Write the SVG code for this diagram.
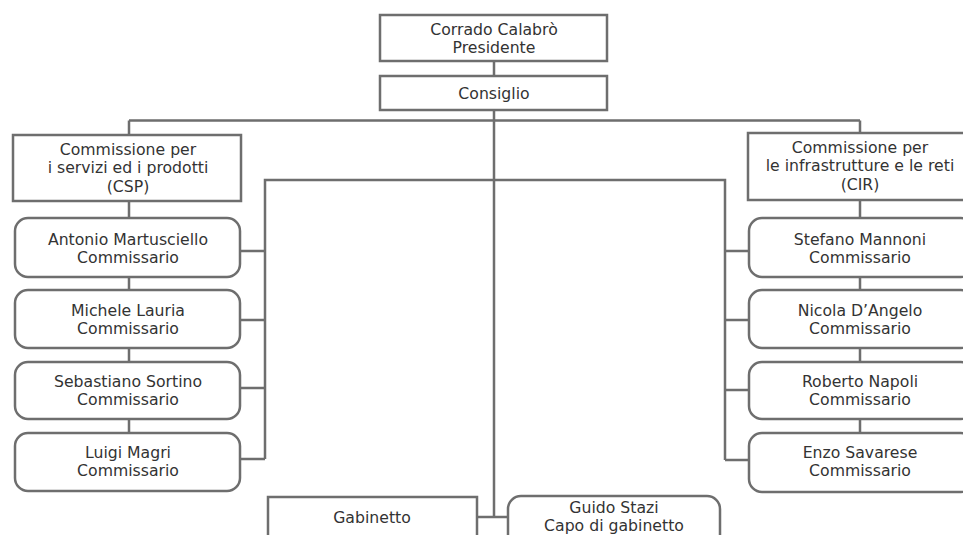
<svg xmlns="http://www.w3.org/2000/svg" width="963" height="535" viewBox="0 0 963 535">
<style>
.box{fill:#fff;stroke:#6e6e6e;stroke-width:2.5}
.ln{fill:none;stroke:#6e6e6e;stroke-width:2.5}
text{font-family:"DejaVu Sans","Verdana",sans-serif;font-size:15.7px;fill:#333;text-anchor:middle}
</style>
<rect width="963" height="535" fill="#fff"/>
<g id="connectors">
<path class="ln" d="M494 61V76M494 110V517M129 120.5H860M129 120.5V135M860 120.5V133"/>
<path class="ln" d="M129 201V218M129 277V290M129 348V362M129 419V433"/>
<path class="ln" d="M860 200V218M860 277V290M860 348V362M860 419V433"/>
<path class="ln" d="M265 459V180H725V460"/>
<path class="ln" d="M240 251H265M240 320H265M240 388H265M240 459H265"/>
<path class="ln" d="M725 251H749M725 320H749M725 390H749M725 460H749"/>
<path class="ln" d="M477 517H508"/>
</g>
<g id="presidente"><rect class="box" x="380" y="15" width="227" height="46"/><text x="494" y="35">Corrado Calabrò</text><text x="494" y="53">Presidente</text></g>
<g id="consiglio"><rect class="box" x="380" y="76" width="227" height="34"/><text x="494" y="99">Consiglio</text></g>
<g id="csp"><rect class="box" x="13" y="135" width="228" height="66"/><text x="128" y="155">Commissione per</text><text x="128" y="173">i servizi ed i prodotti</text><text x="128" y="192">(CSP)</text></g>
<g id="cir"><rect class="box" x="748" y="133" width="228" height="67"/><text x="860" y="153">Commissione per</text><text x="860" y="171">le infrastrutture e le reti</text><text x="860" y="190">(CIR)</text></g>
<g id="martusciello"><rect class="box" x="15" y="218" width="225" height="59" rx="13"/><text x="128" y="245">Antonio Martusciello</text><text x="128" y="263">Commissario</text></g>
<g id="lauria"><rect class="box" x="15" y="290" width="225" height="58" rx="13"/><text x="128" y="316">Michele Lauria</text><text x="128" y="334">Commissario</text></g>
<g id="sortino"><rect class="box" x="15" y="362" width="225" height="57" rx="13"/><text x="128" y="387">Sebastiano Sortino</text><text x="128" y="405">Commissario</text></g>
<g id="magri"><rect class="box" x="15" y="433" width="225" height="58" rx="13"/><text x="128" y="458">Luigi Magri</text><text x="128" y="476">Commissario</text></g>
<g id="mannoni"><rect class="box" x="749" y="218" width="225" height="59" rx="13"/><text x="860" y="245">Stefano Mannoni</text><text x="860" y="263">Commissario</text></g>
<g id="dangelo"><rect class="box" x="749" y="290" width="225" height="58" rx="13"/><text x="860" y="316">Nicola D’Angelo</text><text x="860" y="334">Commissario</text></g>
<g id="napoli"><rect class="box" x="749" y="362" width="225" height="57" rx="13"/><text x="860" y="387">Roberto Napoli</text><text x="860" y="405">Commissario</text></g>
<g id="savarese"><rect class="box" x="749" y="433" width="225" height="59" rx="13"/><text x="860" y="458">Enzo Savarese</text><text x="860" y="476">Commissario</text></g>
<g id="gabinetto"><rect class="box" x="268" y="497" width="209" height="60"/><text x="372" y="523">Gabinetto</text></g>
<g id="stazi"><rect class="box" x="508" y="496" width="212" height="60" rx="13"/><text x="614" y="513">Guido Stazi</text><text x="614" y="531">Capo di gabinetto</text></g>
</svg>
